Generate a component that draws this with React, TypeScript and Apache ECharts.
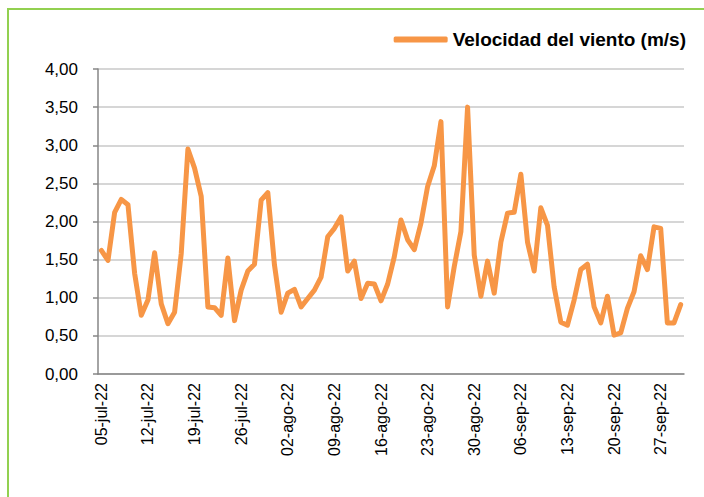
import React, { useEffect, useRef } from "react";
import * as echarts from "echarts";

const months = [
  { name: "jul", from: 5, to: 31 },
  { name: "ago", from: 1, to: 31 },
  { name: "sep", from: 1, to: 30 },
];
const categories: string[] = [];
for (const m of months) {
  for (let d = m.from; d <= m.to; d++) {
    categories.push(`${String(d).padStart(2, "0")}-${m.name}-22`);
  }
}

const seriesName = "Velocidad del viento (m/s)";
const windSpeed = [
  1.62, 1.49, 2.12, 2.29, 2.22, 1.32, 0.77, 0.97, 1.59, 0.92,
  0.66, 0.81, 1.58, 2.95, 2.7, 2.33, 0.88, 0.87, 0.77, 1.52,
  0.7, 1.1, 1.35, 1.44, 2.28, 2.38, 1.43, 0.81, 1.06, 1.11,
  0.88, 0.99, 1.1, 1.27, 1.8, 1.91, 2.06, 1.35, 1.48, 0.99,
  1.19, 1.18, 0.96, 1.18, 1.54, 2.02, 1.76, 1.63, 1.98, 2.46,
  2.73, 3.31, 0.88, 1.41, 1.87, 3.5, 1.56, 1.02, 1.48, 1.06,
  1.73, 2.11, 2.12, 2.62, 1.73, 1.35, 2.18, 1.95, 1.14, 0.68,
  0.64, 0.97, 1.37, 1.44, 0.88, 0.67, 1.02, 0.51, 0.54, 0.86,
  1.08, 1.55, 1.37, 1.93, 1.91, 0.67, 0.67, 0.91,
];

const yMin = 0;
const yMax = 4;
const yStep = 0.5;

const FONT = "Liberation Sans";

export default function App() {
  const ref = useRef<HTMLDivElement>(null);

  useEffect(() => {
    if (!ref.current) return;
    const chart = echarts.init(ref.current, undefined, { renderer: "svg" });
    chart.setOption({
      animation: false,
      backgroundColor: "transparent",
      legend: {
        data: [seriesName],
        right: 18,
        top: 30,
        padding: 0,
        icon: "roundRect",
        itemWidth: 54,
        itemHeight: 6,
        itemGap: 5,
        textStyle: {
          fontFamily: FONT,
          fontWeight: "bold",
          fontSize: 19,
          color: "#000",
        },
      },
      grid: { left: 98, right: 20, top: 69, bottom: 123, containLabel: false },
      xAxis: {
        type: "category",
        data: categories,
        boundaryGap: true,
        axisLine: { lineStyle: { color: "#868686", width: 1.5 } },
        axisTick: {
          interval: 6,
          alignWithLabel: false,
          length: 5,
          lineStyle: { color: "#868686", width: 1.5 },
        },
        axisLabel: {
          interval: 6,
          rotate: 90,
          margin: 9,
          fontFamily: FONT,
          fontSize: 16,
          color: "#000",
        },
        splitLine: { show: false },
      },
      yAxis: {
        type: "value",
        min: yMin,
        max: yMax,
        interval: yStep,
        axisLine: { show: true, lineStyle: { color: "#868686", width: 1.5 } },
        axisTick: { show: true, length: 5, lineStyle: { color: "#868686", width: 1.5 } },
        axisLabel: {
          margin: 20,
          fontFamily: FONT,
          fontSize: 17,
          color: "#000",
          formatter: (v: number) => v.toFixed(2).replace(".", ","),
        },
        splitLine: { lineStyle: { color: "#c8c8c8", width: 1.5 } },
      },
      series: [
        {
          name: seriesName,
          type: "line",
          data: windSpeed,
          symbol: "none",
          color: "#F79646",
          lineStyle: { color: "#F79646", width: 5, cap: "round", join: "round" },
        },
      ],
    });
    return () => chart.dispose();
  }, []);

  return (
    <div
      style={{
        position: "fixed",
        left: 0,
        top: 0,
        width: 704,
        height: 497,
        overflow: "hidden",
        background: "#fff",
      }}
    >
      <div
        style={{
          position: "absolute",
          left: 7,
          top: 8,
          width: 800,
          height: 600,
          borderLeft: "2px solid #92D050",
          borderTop: "2px solid #92D050",
        }}
      />
      <div ref={ref} style={{ position: "absolute", left: 0, top: 0, width: 704, height: 497 }} />
    </div>
  );
}
